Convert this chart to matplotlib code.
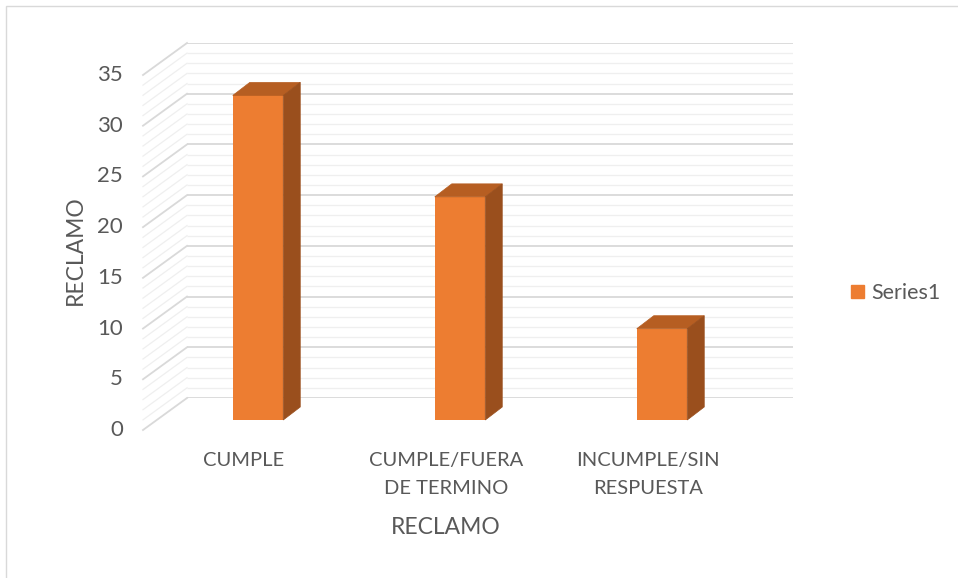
import matplotlib
matplotlib.use('Agg')
import matplotlib.pyplot as plt
from matplotlib.patches import Polygon, Patch, Rectangle
from matplotlib.transforms import IdentityTransform, offset_copy
import numpy as np

plt.rcParams['font.family'] = ['Lato', 'DejaVu Sans']

categories = ['CUMPLE', 'CUMPLE/FUERA\nDE TERMINO', 'INCUMPLE/SIN\nRESPUESTA']
values = [32, 22, 9]
series_name = 'Series1'
y_ticks = [0, 5, 10, 15, 20, 25, 30, 35]

FRONT_C = '#ED7D31'
TOP_C = '#B65E22'
SIDE_C = '#9A4F1D'
TEXT_C = '#595959'

# depth offsets in pixels (display coords) relative to the back wall
FLOOR_FRONT = np.array([-44, -32])
BAR_FRONT = np.array([-30, -22])
BAR_BACK = np.array([-13, -9])
BAR_W = 0.25

fig = plt.figure(figsize=(9.58, 5.78), dpi=100)
ax = fig.add_axes([187 / 958, 180 / 578, 606 / 958, 355 / 578])
ax.set_xlim(-0.5, 2.5)
ax.set_ylim(0, 35)
ax.axis('off')


def pt(x, y, off):
    return ax.transData.transform((x, y)) + off


# back wall + side wall gridlines
for v in range(0, 36):
    major = v % 5 == 0
    col = '#d9d9d9' if major else '#efefef'
    lw = 1.3 if major else 0.9
    ax.hlines(v, -0.5, 2.5, color=col, lw=lw, zorder=1)
    p0 = pt(-0.5, v, FLOOR_FRONT)
    p1 = pt(-0.5, v, np.array([0, 0]))
    ax.add_line(plt.Line2D([p0[0], p1[0]], [p0[1], p1[1]], color=col, lw=lw,
                           transform=IdentityTransform(), clip_on=False, zorder=1))

# y tick labels on the front edge
for v in y_ticks:
    p = pt(-0.5, v, FLOOR_FRONT)
    fig.text(p[0] - 20, p[1], str(v), transform=IdentityTransform(),
             ha='right', va='center', fontsize=16, color=TEXT_C)

# bars: front face through ax.bar, top/side as polygons
front_tr = offset_copy(ax.transData, fig=fig, x=BAR_FRONT[0], y=BAR_FRONT[1], units='dots')
ax.bar(range(len(values)), values, width=BAR_W, color=FRONT_C, transform=front_tr,
       zorder=3, clip_on=False)
for i, v in enumerate(values):
    l, r = i - BAR_W / 2, i + BAR_W / 2
    top = [pt(l, v, BAR_FRONT), pt(r, v, BAR_FRONT), pt(r, v, BAR_BACK), pt(l, v, BAR_BACK)]
    side = [pt(r, 0, BAR_FRONT), pt(r, v, BAR_FRONT), pt(r, v, BAR_BACK), pt(r, 0, BAR_BACK)]
    for poly, c in ((top, TOP_C), (side, SIDE_C)):
        ax.add_patch(Polygon(poly, closed=True, facecolor=c, edgecolor=c, lw=0.5,
                             transform=IdentityTransform(), clip_on=False, zorder=3))

# category labels
for i, c in enumerate(categories):
    p = pt(i, 0, FLOOR_FRONT)
    fig.text(p[0], p[1] - 22, c, transform=IdentityTransform(), ha='center', va='top',
             fontsize=14.5, color=TEXT_C, linespacing=1.75)

fig.text(446 / 958, 1 - 528 / 578, 'RECLAMO', ha='center', va='center', fontsize=16.5, color=TEXT_C)
fig.text(75 / 958, 1 - 250 / 578, 'RECLAMO', ha='center', va='center', fontsize=16.5,
         color=TEXT_C, rotation=90)

fig.legend(handles=[Patch(color=FRONT_C, label=series_name)], loc='center left',
           bbox_to_anchor=(851 / 958, 1 - 293 / 578), frameon=False, fontsize=15.5,
           handlelength=0.6, handleheight=0.6, handletextpad=0.35, labelcolor=TEXT_C,
           borderaxespad=0, borderpad=0)

# chart border
fig.add_artist(Rectangle((5.5 / 958, -0.01), 1.1, 1 - 5.5 / 578 + 0.01, transform=fig.transFigure,
                         fill=False, edgecolor='#d9d9d9', lw=1))

fig.savefig('out.png', dpi=100, facecolor='white')
